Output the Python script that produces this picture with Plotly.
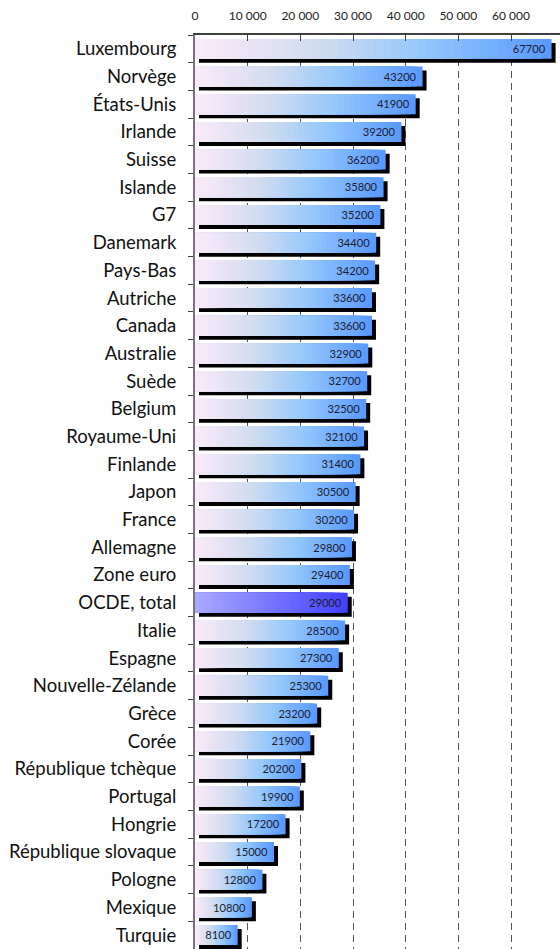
import plotly.graph_objects as go

countries = ["Luxembourg", "Norvège", "États-Unis", "Irlande", "Suisse", "Islande", "G7",
             "Danemark", "Pays-Bas", "Autriche", "Canada", "Australie", "Suède", "Belgium",
             "Royaume-Uni", "Finlande", "Japon", "France", "Allemagne", "Zone euro",
             "OCDE, total", "Italie", "Espagne", "Nouvelle-Zélande", "Grèce", "Corée",
             "République tchèque", "Portugal", "Hongrie", "République slovaque", "Pologne",
             "Mexique", "Turquie"]
values = [67700, 43200, 41900, 39200, 36200, 35800, 35200, 34400, 34200, 33600, 33600,
          32900, 32700, 32500, 32100, 31400, 30500, 30200, 29800, 29400, 29000, 28500,
          27300, 25300, 23200, 21900, 20200, 19900, 17200, 15000, 12800, 10800, 8100]
highlight = "OCDE, total"
tick_vals = [0, 10000, 20000, 30000, 40000, 50000, 60000]

base_stops = [(0.0, (252, 233, 248)), (0.35, (208, 220, 240)), (0.65, (146, 198, 252)), (1.0, (88, 152, 255))]
hl_stops = [(0.0, (170, 170, 255)), (1.0, (64, 64, 255))]


def interp(stops, t):
    for (t0, c0), (t1, c1) in zip(stops[:-1], stops[1:]):
        if t <= t1:
            f = (t - t0) / (t1 - t0) if t1 > t0 else 0
            c = [round(a + (b - a) * f) for a, b in zip(c0, c1)]
            return "rgb(%d,%d,%d)" % tuple(c)
    return "rgb(%d,%d,%d)" % stops[-1][1]


W = 0.72
SHIFT = 760      # shadow offset along value axis (~4px)
TEXT_PAD = 650   # extra inset of value labels from bar end
N = 40

fig = go.Figure()

# shadow
fig.add_trace(go.Bar(y=countries, x=values, base=SHIFT, orientation="h", width=W,
                     offset=-W / 2 + 0.145, marker=dict(color="black", line_width=0),
                     hoverinfo="skip", showlegend=False))

# gradient layers
for k in range(N, 0, -1):
    t = (k - 0.5) / N
    cols = [interp(hl_stops if c == highlight else base_stops, t) for c in countries]
    fig.add_trace(go.Bar(y=countries, x=[v * k / N for v in values], orientation="h",
                         width=W, offset=-W / 2, marker=dict(color=cols, line_width=0),
                         hoverinfo="skip", showlegend=False))

# value labels
fig.add_trace(go.Bar(y=countries, x=[v - TEXT_PAD for v in values], orientation="h",
                     width=W, offset=-W / 2,
                     marker=dict(color="rgba(0,0,0,0)", line_width=0),
                     text=[str(v) for v in values], textposition="inside",
                     insidetextanchor="end", textangle=0,
                     textfont=dict(family="Lato", size=12, color="#1c1c30"),
                     hoverinfo="skip", showlegend=False))

fig.update_layout(
    width=560, height=949,
    margin=dict(l=195, r=0, t=35, b=0, autoexpand=False),
    barmode="overlay",
    paper_bgcolor="white", plot_bgcolor="white",
    separators=", ",
    font=dict(family="Lato", color="#111"),
    xaxis=dict(side="top", range=[0, 69300], tickvals=tick_vals, tickformat=",",
               showgrid=True, griddash="7px,5px", gridcolor="#555", gridwidth=1,
               showline=True, linecolor="#404040", linewidth=1.5,
               ticks="inside", ticklen=6, tickcolor="#404040", tickwidth=1,
               tickfont=dict(family="Lato", size=12, color="#222"),
               ticklabelstandoff=8, zeroline=False, automargin=False),
    yaxis=dict(type="category", autorange="reversed", showline=True,
               linecolor="#7a7080", linewidth=2, ticks="outside", tickson="boundaries",
               ticklen=5, tickcolor="#404040", showgrid=False, automargin=False,
               ticklabelstandoff=13,
               tickfont=dict(family="Lato", size=18.5, color="#111")),
)

fig.write_html("out.html", config={"displayModeBar": False},
               post_script="document.body.style.margin='0';document.body.style.overflow='hidden';")
